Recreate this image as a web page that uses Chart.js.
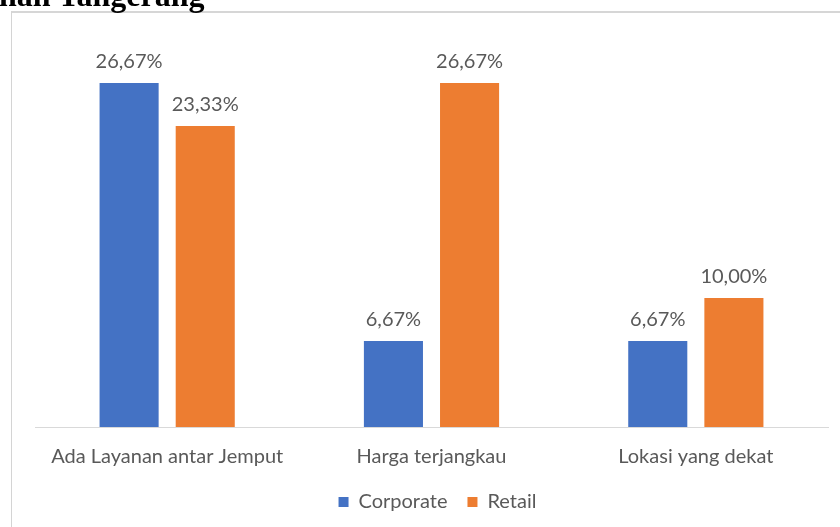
<!DOCTYPE html>
<html>
<head>
<meta charset="utf-8">
<script src="https://cdn.jsdelivr.net/npm/chart.js@4"></script>
<style>
  html, body { margin: 0; padding: 0; background: #ffffff; }
  #wrap { position: relative; width: 840px; height: 527px; overflow: hidden; }
  #frame {
    position: absolute; left: 11px; top: 11px; width: 900px; height: 600px;
    border-left: 1px solid #d4d4d4; border-top: 2px solid #d6d6d6; box-sizing: border-box;
  }
  #heading {
    position: absolute; left: -1px; top: -21px; white-space: nowrap;
    font-family: "Liberation Serif", "DejaVu Serif", serif; font-weight: bold;
    font-size: 32px; color: #000000; line-height: 32px;
  }
  #chart { position: absolute; left: 0; top: 0; }
</style>
</head>
<body>
<div id="wrap">
  <div id="frame"></div>
  <canvas id="chart" width="840" height="527"></canvas>
  <div id="heading">nah Tangerang</div>
</div>
<script>
// Reasons for choosing a service, share of respondents (%)
const categories = ["Ada Layanan antar Jemput", "Harga terjangkau", "Lokasi yang dekat"];
const corporateValues = [26.67, 6.67, 6.67];
const retailValues = [23.33, 26.67, 10.00];
const seriesNames = ["Corporate", "Retail"];

const TEXT_FONT = "Lato, 'Open Sans', sans-serif";
const TEXT_COLOR = "#595959";

function formatPercent(v) {
  return v.toFixed(2).replace(".", ",") + "%";
}

// Writes each bar's value just above its top
const barValueLabels = {
  id: "barValueLabels",
  afterDatasetsDraw(chart) {
    const ctx = chart.ctx;
    ctx.save();
    ctx.font = "20px " + TEXT_FONT;
    ctx.fillStyle = TEXT_COLOR;
    ctx.textAlign = "center";
    ctx.textBaseline = "alphabetic";
    chart.data.datasets.forEach((ds, di) => {
      const meta = chart.getDatasetMeta(di);
      meta.data.forEach((bar, i) => {
        ctx.fillText(formatPercent(ds.data[i]), bar.x, bar.y - 15);
      });
    });
    ctx.restore();
  }
};

// Nudges the legend row a little to the right of the plot centre
const legendShift = {
  id: "legendShift",
  afterLayout(chart) {
    if (chart.legend) {
      chart.legend.left += 6;
      chart.legend.right += 6;
    }
  }
};

new Chart(document.getElementById("chart"), {
  type: "bar",
  data: {
    labels: categories,
    datasets: [
      { label: seriesNames[0], data: corporateValues, backgroundColor: "#4472c4",
        categoryPercentage: 0.576, barPercentage: 0.776 },
      { label: seriesNames[1], data: retailValues, backgroundColor: "#ed7d31",
        categoryPercentage: 0.576, barPercentage: 0.776 }
    ]
  },
  options: {
    responsive: false,
    animation: false,
    layout: { padding: { top: 40, left: 35, right: 12, bottom: 5 } },
    plugins: {
      tooltip: { enabled: false },
      title: { display: false },
      legend: {
        position: "bottom",
        labels: {
          font: { family: TEXT_FONT, size: 20 },
          color: TEXT_COLOR,
          boxWidth: 10,
          boxHeight: 10,
          padding: 20
        }
      }
    },
    scales: {
      x: {
        grid: { display: false, drawTicks: false },
        border: { display: true, color: "#d9d9d9", width: 1 },
        ticks: { font: { family: TEXT_FONT, size: 20 }, color: TEXT_COLOR, padding: 18, maxRotation: 0 },
        afterFit(scale) { scale.height = 45; }
      },
      y: {
        display: false,
        min: 0,
        max: 30
      }
    }
  },
  plugins: [barValueLabels, legendShift]
});
</script>
</body>
</html>
